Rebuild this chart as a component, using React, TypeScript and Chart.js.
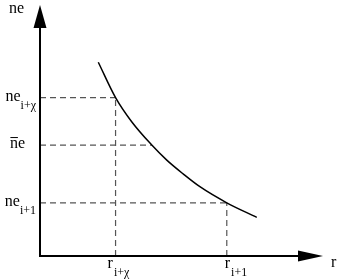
import React, { useEffect, useRef } from "react";
import { Chart, registerables } from "chart.js";

Chart.register(...registerables);

// Curve ne(r), in arbitrary units
const curveX = [20.6, 26.7, 32.4, 39.5, 44.8, 50.6, 56.5, 66.0, 76.6];
const curveY = [77.2, 63.1, 53.5, 44.2, 38.2, 32.7, 27.6, 21.2, 15.4];

// Horizontal reference levels (y value) and where they meet the curve (x value)
const levelY = [63.1, 44.2, 21.2];
const levelX = [26.7, 39.5, 66.0];
const levelMain = ["ne", "ne", "ne"];
const levelSub = ["i+χ", "", "i+1"];
const levelBar = [false, true, false];

// Vertical reference positions (x value) and top of dashed line (y value)
const markX = [26.7, 66.0];
const markY = [63.1, 21.2];
const markMain = ["r", "r"];
const markSub = ["i+χ", "i+1"];

const xTitle = "r";
const yTitle = "ne";

const SERIF = "'Liberation Serif', 'DejaVu Serif', serif";

const axesPlugin = {
  id: "sketchAxes",
  afterDatasetsDraw(chart: any) {
    const { ctx, chartArea } = chart;
    const { left, right, top, bottom } = chartArea;
    const xs = chart.scales.x;
    const ys = chart.scales.y;
    ctx.save();
    ctx.strokeStyle = "#000";
    ctx.fillStyle = "#000";
    ctx.lineWidth = 2;
    ctx.setLineDash([]);
    // axes
    ctx.beginPath();
    ctx.moveTo(left, top + 20);
    ctx.lineTo(left, bottom);
    ctx.lineTo(right - 20, bottom);
    ctx.stroke();
    // y arrow
    ctx.beginPath();
    ctx.moveTo(left, top);
    ctx.lineTo(left - 6.5, top + 23);
    ctx.lineTo(left + 6.5, top + 23);
    ctx.closePath();
    ctx.fill();
    // x arrow
    ctx.beginPath();
    ctx.moveTo(right, bottom);
    ctx.lineTo(right - 25, bottom - 5.5);
    ctx.lineTo(right - 25, bottom + 5.5);
    ctx.closePath();
    ctx.fill();

    const mainFont = "16px " + SERIF;
    const subFont = "12px " + SERIF;
    ctx.textBaseline = "alphabetic";
    ctx.textAlign = "left";

    // axis titles
    ctx.font = mainFont;
    ctx.fillText(yTitle, 9, 13);
    ctx.fillText(xTitle, right + 8, bottom + 11);

    // y level labels
    levelY.forEach((v, i) => {
      const py = ys.getPixelForValue(v);
      ctx.font = mainFont;
      const mw = ctx.measureText(levelMain[i]).width;
      ctx.font = subFont;
      const sw = levelSub[i] ? ctx.measureText(levelSub[i]).width : 0;
      const x0 = levelSub[i] ? left - 4 - sw - mw : left - 15 - mw;
      ctx.font = mainFont;
      ctx.fillText(levelMain[i], x0, py + 3);
      if (levelBar[i]) {
        const nw = ctx.measureText("n").width;
        ctx.lineWidth = 1;
        ctx.beginPath();
        ctx.moveTo(x0 + 0.5, py - 7.5);
        ctx.lineTo(x0 + nw, py - 7.5);
        ctx.stroke();
      }
      if (levelSub[i]) {
        ctx.font = subFont;
        ctx.fillText(levelSub[i], x0 + mw, py + 11);
      }
    });

    // x mark labels
    markX.forEach((v, i) => {
      const px = xs.getPixelForValue(v);
      ctx.font = mainFont;
      const mw = ctx.measureText(markMain[i]).width;
      const x0 = i === 0 ? px - 8 : px - 2;
      ctx.fillText(markMain[i], x0, bottom + 12);
      ctx.font = subFont;
      ctx.fillText(markSub[i], x0 + mw + 1, bottom + 20);
    });
    ctx.restore();
  },
};

export default function App() {
  const ref = useRef<HTMLCanvasElement>(null);
  useEffect(() => {
    if (!ref.current) return;
    const dashStyle = {
      borderColor: "#555",
      borderWidth: 1.2,
      borderDash: [6, 4],
      pointRadius: 0,
      showLine: true,
      fill: false,
      clip: false as any,
      tension: 0,
    };
    const datasets: any[] = [
      {
        data: curveX.map((x, i) => ({ x, y: curveY[i] })),
        borderColor: "#000",
        borderWidth: 1.5,
        pointRadius: 0,
        showLine: true,
        cubicInterpolationMode: "monotone",
        clip: false,
      },
    ];
    levelY.forEach((y, i) => {
      datasets.push({ ...dashStyle, data: [{ x: 0, y }, { x: levelX[i], y }] });
    });
    markX.forEach((x, i) => {
      datasets.push({ ...dashStyle, data: [{ x, y: 0 }, { x, y: markY[i] }] });
    });
    const chart = new Chart(ref.current, {
      type: "scatter",
      data: { datasets },
      options: {
        animation: false,
        responsive: false,
        layout: { padding: { left: 40, right: 17, top: 5, bottom: 24 } },
        plugins: { legend: { display: false }, tooltip: { enabled: false } },
        scales: {
          x: { type: "linear", min: 0, max: 100, display: false },
          y: { type: "linear", min: 0, max: 100, display: false },
        },
      },
      plugins: [axesPlugin],
    });
    return () => chart.destroy();
  }, []);
  return (
    <div style={{ position: "absolute", left: 0, top: 0, width: 340, height: 280, background: "#fff" }}>
      <canvas ref={ref} width={340} height={280} style={{ display: "block" }} />
    </div>
  );
}
